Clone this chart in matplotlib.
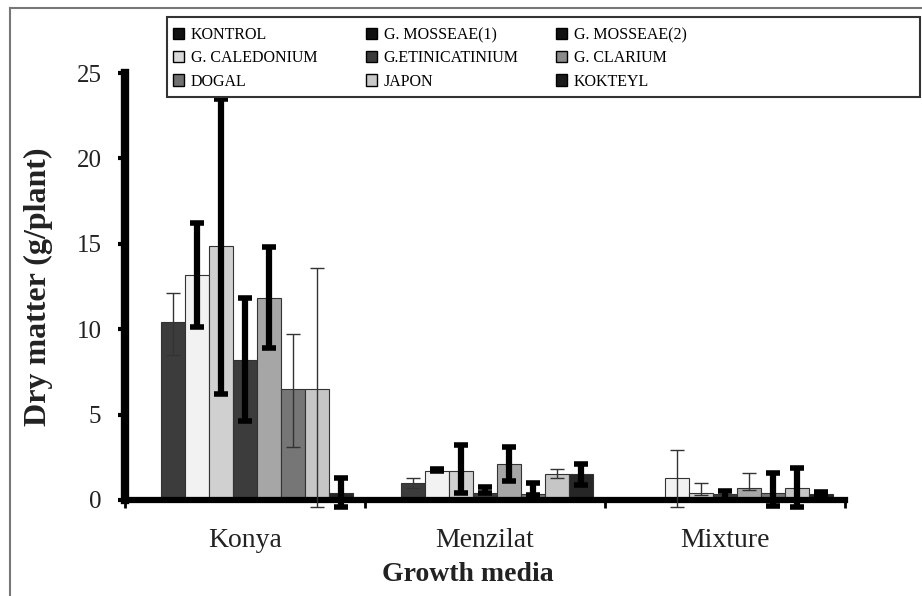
import numpy as np
import matplotlib
matplotlib.use("Agg")
import matplotlib.pyplot as plt
from matplotlib.patches import Patch, Rectangle
from matplotlib.lines import Line2D

plt.rcParams['font.family'] = ['Liberation Serif', 'DejaVu Serif']

# data
media = ["Konya", "Menzilat", "Mixture"]
series = ["KONTROL", "G. MOSSEAE(1)", "G. MOSSEAE(2)", "G. CALEDONIUM",
          "G.ETINICATINIUM", "G. CLARIUM", "DOGAL", "JAPON", "KOKTEYL"]

kontrol = [0.0, 0.0, 0.0]
mosseae1 = [10.4, 1.0, 0.0]
mosseae2 = [13.2, 1.7, 1.3]
caledonium = [14.9, 1.7, 0.4]
etinicatinium = [8.2, 0.4, 0.35]
clarium = [11.8, 2.1, 0.7]
dogal = [6.5, 0.35, 0.4]
japon = [6.5, 1.5, 0.7]
kokteyl = [0.4, 1.5, 0.35]

# error bar ends (low, high)
kontrol_lo = [0.0, 0.0, 0.0]
kontrol_hi = [0.0, 0.0, 0.0]
mosseae1_lo = [8.5, 0.7, 0.0]
mosseae1_hi = [12.1, 1.3, 0.0]
mosseae2_lo = [10.1, 1.7, -0.4]
mosseae2_hi = [16.2, 1.8, 2.9]
caledonium_lo = [6.2, 0.4, 0.3]
caledonium_hi = [23.5, 3.2, 1.0]
etinicatinium_lo = [4.6, 0.4, 0.0]
etinicatinium_hi = [11.8, 0.75, 0.5]
clarium_lo = [8.9, 1.1, 0.6]
clarium_hi = [14.8, 3.1, 1.6]
dogal_lo = [3.1, 0.3, -0.35]
dogal_hi = [9.7, 1.0, 1.6]
japon_lo = [-0.4, 1.3, -0.4]
japon_hi = [13.6, 1.8, 1.9]
kokteyl_lo = [-0.4, 0.9, 0.3]
kokteyl_hi = [1.3, 2.1, 0.45]

values = [kontrol, mosseae1, mosseae2, caledonium, etinicatinium,
          clarium, dogal, japon, kokteyl]
lows = [kontrol_lo, mosseae1_lo, mosseae2_lo, caledonium_lo, etinicatinium_lo,
        clarium_lo, dogal_lo, japon_lo, kokteyl_lo]
highs = [kontrol_hi, mosseae1_hi, mosseae2_hi, caledonium_hi, etinicatinium_hi,
         clarium_hi, dogal_hi, japon_hi, kokteyl_hi]

# styles
bar_colors = ["#000000", "#3c3c3c", "#f2f2f2", "#d0d0d0", "#3c3c3c",
              "#a6a6a6", "#767676", "#c6c6c6", "#262626"]
legend_colors = ["#111111", "#111111", "#111111", "#d8d8d8", "#3a3a3a",
                 "#8a8a8a", "#707070", "#c8c8c8", "#1a1a1a"]
thick_err = [[False, False, False], [False, False, False], [True, True, False],
             [True, True, False], [True, True, True], [True, True, False],
             [False, True, True], [False, False, True], [True, True, True]]

fig = plt.figure(figsize=(9.22, 5.96), dpi=100)
ax = fig.add_axes([125 / 922, 1 - 500 / 596, 720 / 922, 427 / 596])

x = np.arange(len(media))
w = 0.1
for i in range(len(series)):
    xs = x + (i - 4) * w
    vals = np.array(values[i])
    ax.bar(xs, vals, width=w, color=bar_colors[i], edgecolor="#333333",
           linewidth=0.8, clip_on=False, zorder=2)
    for g in range(len(media)):
        lo, hi = lows[i][g], highs[i][g]
        if lo == hi:
            continue
        err = [[vals[g] - lo], [hi - vals[g]]]
        if thick_err[i][g]:
            ax.errorbar(xs[g], vals[g], yerr=err, fmt="none", ecolor="black",
                        elinewidth=4.5, capsize=5, capthick=4, clip_on=False, zorder=3)
        else:
            ax.errorbar(xs[g], vals[g], yerr=err, fmt="none", ecolor="#333333",
                        elinewidth=1, capsize=5, capthick=1, clip_on=False, zorder=3)

ax.set_xlim(-0.5, 2.5)
ax.set_ylim(0, 25)
ax.set_yticks([0, 5, 10, 15, 20, 25])
ax.set_xticks(x)
ax.set_xticklabels(media, fontsize=20, color="#222222")
ax.set_xticks([-0.5, 0.5, 1.5, 2.5], minor=True)
ax.tick_params(axis="x", which="major", length=0, pad=20)
ax.tick_params(axis="x", which="minor", length=6, width=2, direction="out")
ax.tick_params(axis="y", length=5, width=3, direction="out", labelsize=18,
               labelcolor="#222222", pad=12)
for s in ["top", "right"]:
    ax.spines[s].set_visible(False)
ax.spines["left"].set_linewidth(6)
ax.spines["bottom"].set_linewidth(4.5)

ax.set_ylabel("Dry matter (g/plant)", fontsize=23, fontweight="bold",
              color="#222222")
ax.yaxis.set_label_coords(-72 / 720, 0.5)
ax.set_xlabel("Growth media", fontsize=20, fontweight="bold", color="#222222")
ax.xaxis.set_label_coords((468 - 125) / 720, -62 / 427)

# legend in three columns, row-major like the original
handles = [Patch(facecolor=c, edgecolor="black", linewidth=1) for c in legend_colors]
col_x = [170, 363, 553]
for c in range(3):
    idx = [c, c + 3, c + 6]
    fig.legend([handles[k] for k in idx], [series[k] for k in idx],
               loc="upper left", bbox_to_anchor=(col_x[c] / 922, 1 - 24 / 596),
               frameon=False, fontsize=11.5, handlelength=0.7, handleheight=0.7,
               handletextpad=0.4, labelspacing=0.45, borderaxespad=0, borderpad=0.2)
fig.add_artist(Rectangle((167 / 922, 1 - 97 / 596), 753 / 922, 80 / 596,
                         transform=fig.transFigure, fill=False,
                         edgecolor="#333333", linewidth=1.5))

# outer frame lines
fig.add_artist(Line2D([10 / 922, 10 / 922], [0, 1 - 8 / 596], transform=fig.transFigure,
                      color="#777777", linewidth=1.5))
fig.add_artist(Line2D([10 / 922, 1], [1 - 8 / 596, 1 - 8 / 596], transform=fig.transFigure,
                      color="#777777", linewidth=1.5))

fig.savefig("out.png", dpi=100)
